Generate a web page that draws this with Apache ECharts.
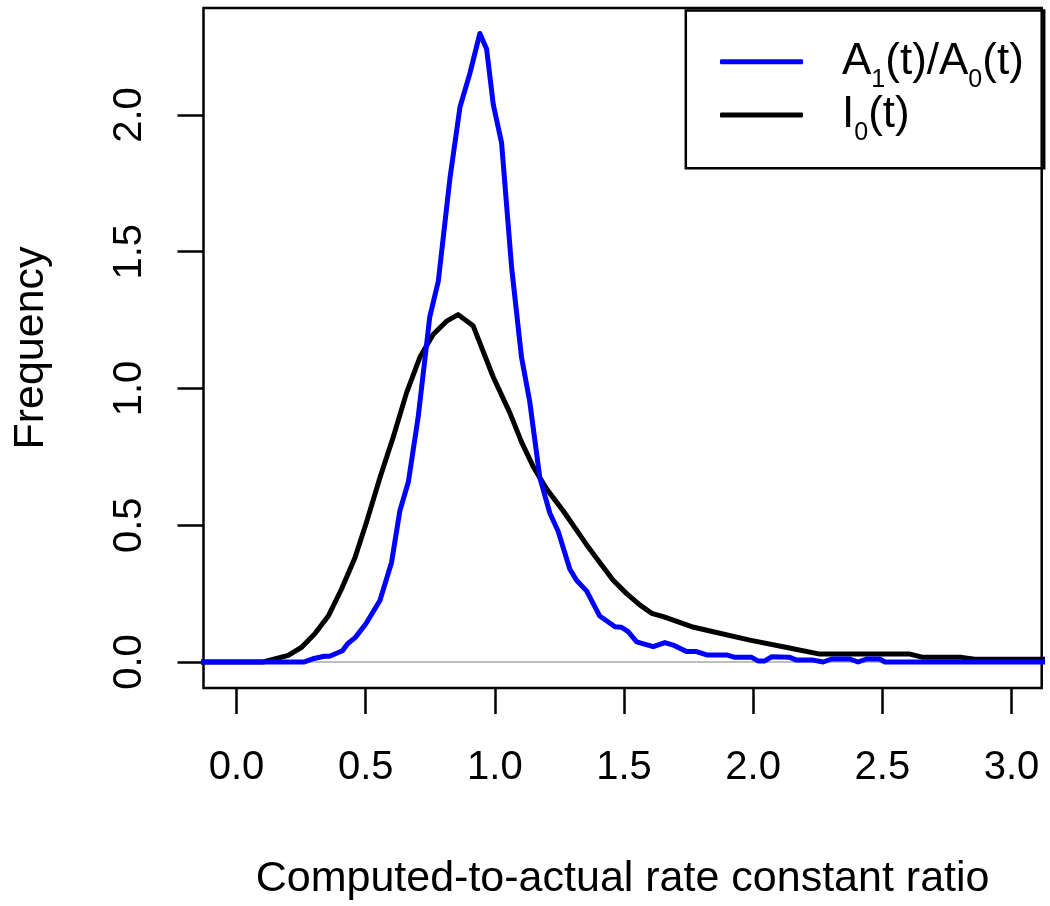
<!DOCTYPE html>
<html>
<head>
<meta charset="utf-8">
<script src="https://cdn.jsdelivr.net/npm/echarts@6/dist/echarts.min.js"></script>
<style>
html,body{margin:0;padding:0;background:#fff;}
#chart{width:1050px;height:906px;}
</style>
</head>
<body>
<div id="chart"></div>
<script>
// ---- data ----
const blueName = 'A1(t)/A0(t)';
const blackName = 'I0(t)';
const blueX = [-0.2, 0.26, 0.30, 0.34, 0.36, 0.41, 0.43, 0.46, 0.50, 0.555, 0.60, 0.632, 0.665, 0.703, 0.748, 0.781, 0.826, 0.865, 0.903, 0.942, 0.968, 0.994, 1.026, 1.065, 1.103, 1.135, 1.174, 1.213, 1.245, 1.29, 1.316, 1.355, 1.406, 1.465, 1.49, 1.516, 1.549, 1.613, 1.658, 1.69, 1.742, 1.781, 1.82, 1.897, 1.929, 1.994, 2.019, 2.045, 2.071, 2.142, 2.168, 2.232, 2.271, 2.304, 2.374, 2.406, 2.439, 2.49, 2.51, 3.2];
const blueY = [0, 0, 0.013, 0.021, 0.021, 0.041, 0.067, 0.09, 0.139, 0.225, 0.364, 0.552, 0.658, 0.895, 1.262, 1.392, 1.768, 2.029, 2.151, 2.298, 2.241, 2.037, 1.898, 1.441, 1.115, 0.952, 0.674, 0.544, 0.478, 0.34, 0.299, 0.26, 0.168, 0.129, 0.127, 0.111, 0.074, 0.056, 0.071, 0.062, 0.038, 0.038, 0.026, 0.026, 0.017, 0.017, 0.004, 0.004, 0.019, 0.017, 0.007, 0.007, 0, 0.011, 0.011, 0, 0.011, 0.011, 0, 0];
const blackX = [-0.2, 0.103, 0.2, 0.252, 0.303, 0.355, 0.406, 0.458, 0.503, 0.555, 0.606, 0.658, 0.71, 0.761, 0.813, 0.858, 0.916, 0.994, 1.058, 1.103, 1.148, 1.2, 1.265, 1.355, 1.406, 1.458, 1.51, 1.561, 1.607, 1.652, 1.762, 1.858, 1.987, 2.116, 2.258, 2.607, 2.658, 2.807, 2.858, 3.2];
const blackY = [0, 0, 0.024, 0.054, 0.103, 0.168, 0.266, 0.38, 0.511, 0.674, 0.821, 0.984, 1.115, 1.197, 1.246, 1.27, 1.229, 1.041, 0.911, 0.805, 0.715, 0.633, 0.552, 0.429, 0.364, 0.299, 0.25, 0.209, 0.178, 0.166, 0.129, 0.108, 0.08, 0.056, 0.029, 0.029, 0.017, 0.017, 0.01, 0.01];
const xTicks = [0, 0.5, 1.0, 1.5, 2.0, 2.5, 3.0];
const yTicks = [0, 0.5, 1.0, 1.5, 2.0];
const xTitle = 'Computed-to-actual rate constant ratio';
const yTitle = 'Frequency';

const FONT = '"Liberation Sans", Arial, Helvetica, sans-serif';
const pairs = (xs, ys) => xs.map((x, i) => [x, ys[i]]);

const chart = echarts.init(document.getElementById('chart'), null, {renderer: 'canvas'});
chart.setOption({
  backgroundColor: '#ffffff',
  animation: false,
  grid: {
    left: 203.5, right: 8.3, top: 8, bottom: 217,
    show: true, borderColor: '#000', borderWidth: 2.5, backgroundColor: 'transparent'
  },
  xAxis: {
    type: 'value', min: -0.128, max: 3.117,
    splitLine: {show: false},
    axisLine: {show: false, onZero: false},
    axisTick: {show: true, length: 26, lineStyle: {color: '#000', width: 2.5}, customValues: xTicks},
    axisLabel: {color: '#000', fontSize: 40, fontFamily: FONT, margin: 60, customValues: xTicks,
      formatter: v => v.toFixed(1)},
    name: xTitle, nameLocation: 'middle', nameGap: 170,
    nameTextStyle: {color: '#000', fontSize: 43, fontFamily: FONT}
  },
  yAxis: {
    type: 'value', min: -0.095, max: 2.391,
    splitLine: {show: false},
    axisLine: {show: false, onZero: false},
    axisTick: {show: true, length: 26, lineStyle: {color: '#000', width: 2.5}, customValues: yTicks},
    axisLabel: {color: '#000', fontSize: 40, fontFamily: FONT, margin: 54, rotate: 90, customValues: yTicks,
      formatter: v => v.toFixed(1)},
    name: yTitle, nameLocation: 'middle', nameGap: 151, nameRotate: 90,
    nameTextStyle: {color: '#000', fontSize: 43, fontFamily: FONT}
  },
  legend: {
    data: [blueName, blackName],
    orient: 'vertical',
    left: 720, top: 29.7,
    padding: 0,
    itemWidth: 83, itemHeight: 5, itemGap: -10.7,
    icon: 'roundRect',
    formatter: function (name) {
      if (name === blueName) return '{m|A}{s|1}{m|(t)/A}{s|0}{m|(t)}';
      return '{m|I}{s|0}{m|(t)}';
    },
    textStyle: {
      color: '#000', fontSize: 44, fontFamily: FONT, lineHeight: 64, padding: [0, 0, 0, 34],
      rich: {
        m: {fontSize: 44, fontFamily: FONT, color: '#000', lineHeight: 64},
        s: {fontSize: 25, fontFamily: FONT, color: '#000', lineHeight: 13, verticalAlign: 'top', padding: [38, 0, 0, 0]}
      }
    }
  },
  graphic: [{
    type: 'rect', left: 683.3, top: 8, z: 100,
    shape: {width: 358.4, height: 157.7},
    style: {fill: 'none', stroke: '#000', lineWidth: 2.5}
  }],
  series: [
    {
      name: blackName, type: 'line', data: pairs(blackX, blackY),
      symbol: 'none', z: 2,
      lineStyle: {color: '#000', width: 5, cap: 'round', join: 'round'},
      itemStyle: {color: '#000'},
      markLine: {
        silent: true, symbol: ['none', 'none'], label: {show: false},
        lineStyle: {color: '#bebebe', width: 2, type: 'solid'},
        data: [{yAxis: 0}], z: 1
      }
    },
    {
      name: blueName, type: 'line', data: pairs(blueX, blueY),
      symbol: 'none', z: 3,
      lineStyle: {color: '#0000ff', width: 5, cap: 'round', join: 'round'},
      itemStyle: {color: '#0000ff'}
    }
  ]
});
</script>
</body>
</html>
